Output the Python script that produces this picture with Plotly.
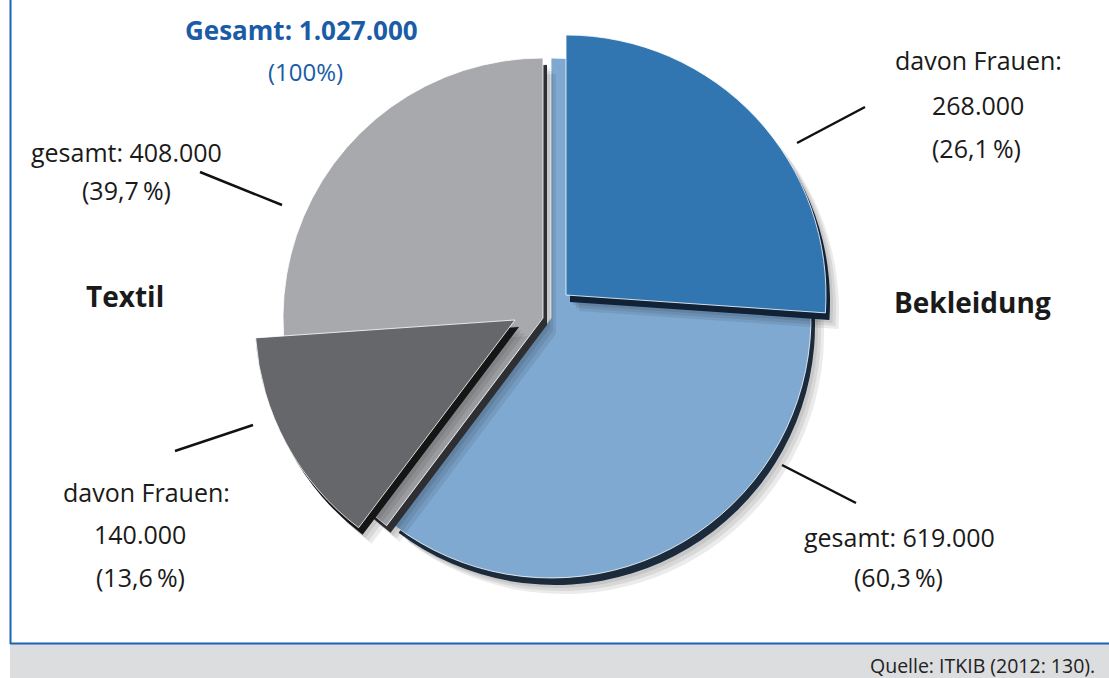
import plotly.graph_objects as go

# Beschäftigte in der Textil- und Bekleidungsindustrie
gesamt = 1027000
bekleidung_gesamt = 619000
bekleidung_frauen = 268000
textil_gesamt = 408000
textil_frauen = 140000

W, H = 1109, 678
FONT = "Open Sans"
BLAU = "#1a5ca6"
R = 260  # pie radius in px


def zahl(v):
    return f"{v:,}".replace(",", ".")


def prozent(v):
    return f"({v / gesamt * 100:.1f}\u2009%)".replace(".", ",")


def px(x):
    return x / W


def py(y):
    return 1 - y / H


# Each slice is its own pie trace (other sectors transparent) so that it can
# be shifted independently: (values, index of the visible sector, fill, rim, apex)
CLEAR = "rgba(0,0,0,0)"
stuecke = [
    ([bekleidung_gesamt, textil_gesamt], 0, "#7fa9d1", "#1b2b3c", (551, 318)),
    ([bekleidung_gesamt, textil_gesamt], 1, "#a7a9ac", "#2e2f32", (543, 318)),
    ([bekleidung_frauen, gesamt - bekleidung_frauen], 0, "#3276b1", "#112236", (566, 295)),
    ([bekleidung_gesamt, textil_frauen, textil_gesamt - textil_frauen], 1,
     "#65676b", "#151516", (515, 320)),
]


def pie(werte, idx, farbe, cx, cy, line_w=0, line_c=CLEAR):
    farben = [CLEAR] * len(werte)
    farben[idx] = farbe
    widths = [0] * len(werte)
    widths[idx] = line_w
    return go.Pie(
        values=werte, sort=False, direction="clockwise", rotation=0,
        textinfo="none", hoverinfo="skip", showlegend=False,
        marker=dict(colors=farben, line=dict(width=widths, color=line_c)),
        domain=dict(x=[px(cx - R), px(cx + R)], y=[py(cy + R), py(cy - R)]),
    )


fig = go.Figure()
for werte, idx, farbe, rand, (cx, cy) in stuecke:
    # soft drop shadow from a few offset translucent copies
    for dx, dy in [(4, 6), (7, 10), (10, 13), (13, 16)]:
        fig.add_trace(pie(werte, idx, "rgba(0,0,0,0.08)", cx + dx, cy + dy))
    # dark bevel rim
    fig.add_trace(pie(werte, idx, rand, cx + 4, cy + 7))
    # the slice itself
    fig.add_trace(pie(werte, idx, farbe, cx, cy, line_w=1,
                      line_c="rgba(255,255,255,0.8)"))

annotations = []


def text(x, y, s, size=25, bold=False, color="#1a1a1a", xanchor="center"):
    annotations.append(dict(
        x=px(x), y=py(y), xref="paper", yref="paper",
        text=f"<b>{s}</b>" if bold else s,
        showarrow=False, xanchor=xanchor, yanchor="middle",
        font=dict(family=FONT, size=size, color=color)))


text(301, 30, f"Gesamt: {zahl(gesamt)}", size=26, bold=True, color=BLAU)
text(305, 72, "(100%)", size=24, color=BLAU)

text(126, 152, f"gesamt: {zahl(textil_gesamt)}")
text(126, 190, prozent(textil_gesamt))
text(125, 296, "Textil", size=28, bold=True)
text(146, 492, "davon Frauen:")
text(140, 534, zahl(textil_frauen))
text(140, 577, prozent(textil_frauen))

text(978, 60, "davon Frauen:")
text(978, 105, zahl(bekleidung_frauen))
text(976, 148, prozent(bekleidung_frauen))
text(972, 302, "Bekleidung", size=28, bold=True)
text(899, 537, f"gesamt: {zahl(bekleidung_gesamt)}")
text(898, 577, prozent(bekleidung_gesamt))

text(1097, 665, "Quelle: ITKIB (2012: 130).", size=19.5, xanchor="right",
     color="#222222")

shapes = []
# footer band and frame
shapes.append(dict(type="rect", xref="paper", yref="paper",
                   x0=px(10), x1=1, y0=0, y1=py(644),
                   fillcolor="#dcdddf", line=dict(width=0), layer="below"))
shapes.append(dict(type="line", xref="paper", yref="paper",
                   x0=px(10.5), x1=px(10.5), y0=py(0), y1=py(644),
                   line=dict(color="#1b63b5", width=2)))
shapes.append(dict(type="line", xref="paper", yref="paper",
                   x0=px(10), x1=1, y0=py(643.5), y1=py(643.5),
                   line=dict(color="#1b63b5", width=2)))

# leader lines
for (x0, y0, x1, y1) in [(200, 172, 282, 205), (175, 451, 253, 425),
                         (797, 143, 865, 107), (782, 465, 856, 503)]:
    shapes.append(dict(type="line", xref="paper", yref="paper",
                       x0=px(x0), y0=py(y0), x1=px(x1), y1=py(y1),
                       line=dict(color="#111111", width=2.5)))

fig.update_layout(
    width=W, height=H, margin=dict(l=0, r=0, t=0, b=0),
    paper_bgcolor="white", plot_bgcolor="white",
    annotations=annotations, shapes=shapes,
)

fig.write_html("out.html")
